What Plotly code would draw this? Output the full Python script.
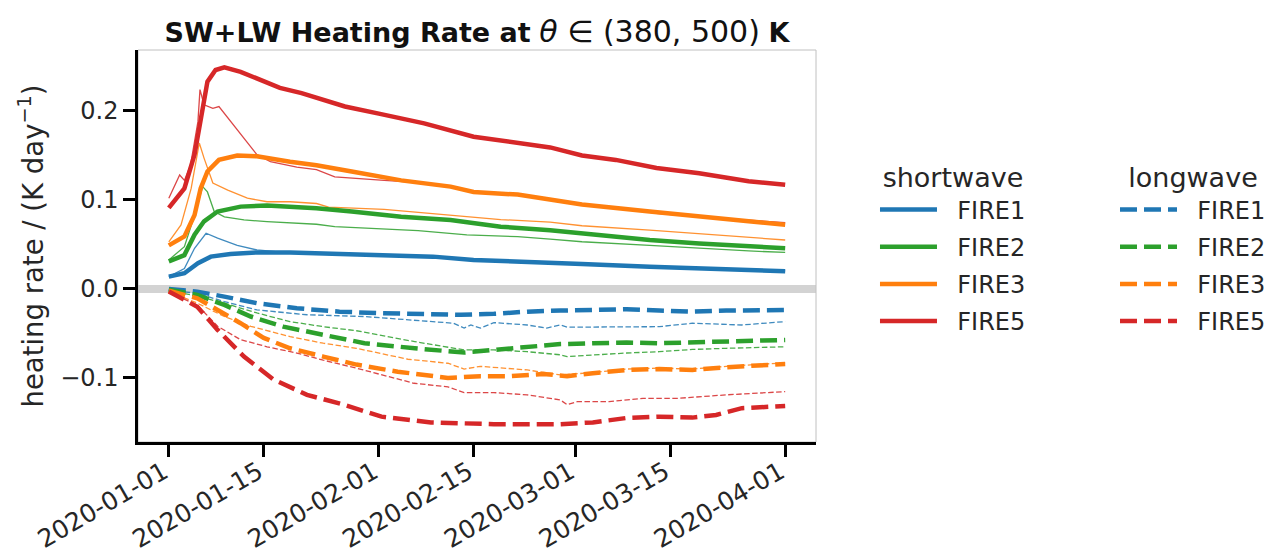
import pandas as pd
import plotly.graph_objects as go

START = pd.Timestamp("2020-01-01")

fires = ["FIRE1", "FIRE2", "FIRE3", "FIRE5"]
colors = {"FIRE1": "#1f77b4", "FIRE2": "#2ca02c", "FIRE3": "#ff7f0e", "FIRE5": "#d62728"}

# ---- shortwave, thick (days since 2020-01-01, K/day)
sw_thick_days = {
    "FIRE1": [0, 2.3, 4.3, 6.2, 9.1, 13, 17.9, 21.8, 29.5, 39, 45, 56.3, 61, 71, 78.3, 85.6, 91],
    "FIRE2": [0, 2.3, 3.8, 5.2, 7.2, 10.6, 14.5, 17.9, 21.8, 27, 34.3, 41.6, 49, 56.3, 61, 71, 78.3, 85.6, 91],
    "FIRE3": [0, 2.3, 3.8, 4.7, 5.7, 7.4, 10.1, 13, 17.9, 21.8, 27, 34.3, 41.6, 45, 51.5, 56.3, 61, 71, 78.3, 85.6, 91],
    "FIRE5": [0, 2.3, 3.8, 5, 5.7, 6.9, 8.2, 10.6, 13, 16.4, 19.6, 21.8, 26, 31, 37.7, 45, 50, 56.3, 61, 66, 72, 78.3, 85.6, 91],
}
sw_thick_vals = {
    "FIRE1": [0.0138, 0.0176, 0.029, 0.0363, 0.0393, 0.041, 0.041, 0.040, 0.038, 0.0363, 0.0326, 0.0300, 0.028, 0.025, 0.0232, 0.0213, 0.020],
    "FIRE2": [0.031, 0.038, 0.061, 0.076, 0.087, 0.0925, 0.0937, 0.0925, 0.0907, 0.087, 0.081, 0.0775, 0.070, 0.066, 0.0626, 0.055, 0.051, 0.0475, 0.0457],
    "FIRE3": [0.049, 0.059, 0.083, 0.113, 0.132, 0.145, 0.150, 0.149, 0.143, 0.139, 0.132, 0.122, 0.115, 0.109, 0.106, 0.100, 0.095, 0.087, 0.081, 0.076, 0.072],
    "FIRE5": [0.091, 0.113, 0.151, 0.207, 0.233, 0.246, 0.249, 0.244, 0.237, 0.226, 0.220, 0.215, 0.205, 0.197, 0.186, 0.171, 0.166, 0.159, 0.150, 0.145, 0.136, 0.130, 0.121, 0.117],
}

# ---- shortwave, thin
sw_thin_days = {
    "FIRE1": [0, 2.3, 3.8, 5.5, 7.2, 10.1, 13, 17, 21.8, 29.5, 39, 45, 56.3, 61, 71, 78.3, 85.6, 91],
    "FIRE2": [0, 2.3, 3.8, 5, 5.7, 6.7, 8.2, 11.1, 14.5, 18.9, 21.8, 24.5, 36.8, 44, 51.5, 56.3, 61, 71, 78.3, 85.6, 91],
    "FIRE3": [0, 1.8, 3.3, 4.5, 5.2, 6.5, 8.7, 11.6, 14.5, 17.9, 21.8, 23.6, 31.8, 41.6, 49, 56.3, 61, 71, 78.3, 85.6, 91],
    "FIRE5": [0, 1.6, 2.3, 3.2, 4.3, 4.6, 5.2, 6.5, 7.4, 9.6, 13, 15, 18.9, 21.8, 24.5, 31.8, 38.3, 45, 51, 57.8, 61, 66, 72, 78.3, 85.6, 91],
}
sw_thin_vals = {
    "FIRE1": [0.0138, 0.023, 0.0457, 0.0626, 0.057, 0.049, 0.0438, 0.041, 0.0405, 0.0385, 0.0368, 0.033, 0.0305, 0.0285, 0.0255, 0.0235, 0.0216, 0.0203],
    "FIRE2": [0.0326, 0.0475, 0.083, 0.115, 0.109, 0.087, 0.081, 0.0775, 0.0756, 0.0738, 0.0727, 0.070, 0.0655, 0.0607, 0.0588, 0.056, 0.053, 0.049, 0.0457, 0.0427, 0.041],
    "FIRE3": [0.053, 0.072, 0.113, 0.164, 0.147, 0.119, 0.111, 0.102, 0.098, 0.098, 0.096, 0.092, 0.0895, 0.083, 0.078, 0.075, 0.071, 0.066, 0.062, 0.058, 0.055],
    "FIRE5": [0.102, 0.128, 0.122, 0.139, 0.188, 0.224, 0.207, 0.203, 0.205, 0.184, 0.151, 0.143, 0.137, 0.134, 0.126, 0.122, 0.119, 0.109, 0.106, 0.098, 0.094, 0.092, 0.085, 0.081, 0.077, 0.0745],
}

# ---- longwave, thick
lw_thick_days = {
    "FIRE1": [0, 4.2, 8.2, 13, 18.9, 25.2, 31.4, 43.1, 48, 52.9, 57.8, 62.6, 67.6, 72.4, 77.3, 82.3, 91],
    "FIRE2": [0, 4.2, 8.2, 12.1, 16.9, 21.8, 26.7, 28.9, 36.3, 43.6, 48, 52.9, 57.8, 62.6, 67.6, 72.4, 77.3, 82.3, 91],
    "FIRE3": [0, 4.2, 7.2, 10.6, 14, 17.9, 22.8, 27.7, 33.8, 41.2, 46, 50.4, 55.3, 58.8, 62.6, 67.6, 72.4, 77.3, 82.3, 91],
    "FIRE5": [0, 4.2, 7.2, 11.1, 15.5, 20.4, 25.8, 31.4, 38.7, 43.1, 48, 57.8, 62.6, 67.6, 72.4, 77.3, 80.8, 84.6, 91],
}
lw_thick_vals = {
    "FIRE1": [0.0, -0.003, -0.0086, -0.016, -0.0217, -0.0255, -0.0273, -0.029, -0.028, -0.0255, -0.0243, -0.0236, -0.0228, -0.0243, -0.0255, -0.0243, -0.0236],
    "FIRE2": [-0.001, -0.0067, -0.018, -0.031, -0.0424, -0.050, -0.057, -0.061, -0.0667, -0.0715, -0.0685, -0.065, -0.062, -0.061, -0.0603, -0.061, -0.0603, -0.059, -0.0573],
    "FIRE3": [-0.002, -0.0105, -0.0236, -0.0385, -0.055, -0.0667, -0.076, -0.085, -0.093, -0.100, -0.098, -0.098, -0.0955, -0.098, -0.0947, -0.091, -0.090, -0.091, -0.088, -0.0843],
    "FIRE5": [-0.003, -0.020, -0.046, -0.076, -0.102, -0.119, -0.130, -0.1435, -0.150, -0.151, -0.152, -0.152, -0.150, -0.145, -0.1435, -0.1446, -0.1416, -0.134, -0.1315],
}

# ---- longwave, thin
lw_thin_days = {
    "FIRE1": [0, 4.2, 8.2, 13, 20.4, 26.7, 28.9, 42, 43.6, 44.6, 46, 48, 52.9, 55.8, 57.8, 58.8, 62.6, 72.4, 77.3, 84.6, 91],
    "FIRE2": [0, 4.2, 8.2, 13, 17.9, 22.8, 27.7, 36.3, 43.6, 48, 52.9, 57.8, 58.8, 62.6, 67.6, 72.4, 77.3, 82.3, 91],
    "FIRE3": [0, 4.2, 8.2, 12.1, 17.9, 22.8, 27.7, 35.3, 41.2, 43.6, 46, 48, 52.9, 57.8, 62.6, 67.6, 72.4, 77.3, 82.3, 91],
    "FIRE5": [0, 4.2, 7.2, 10.6, 14.5, 18.9, 22.8, 27.7, 36.2, 41.2, 43.6, 48, 52.9, 57.8, 58.8, 60.3, 65, 70, 75, 82.3, 91],
}
lw_thin_vals = {
    "FIRE1": [-0.001, -0.005, -0.0142, -0.0236, -0.029, -0.031, -0.031, -0.0385, -0.044, -0.0405, -0.044, -0.0378, -0.0405, -0.044, -0.0405, -0.043, -0.043, -0.0424, -0.0385, -0.0405, -0.0367],
    "FIRE2": [-0.002, -0.008, -0.016, -0.027, -0.0367, -0.0424, -0.047, -0.0592, -0.0685, -0.0685, -0.0705, -0.074, -0.076, -0.074, -0.072, -0.0705, -0.068, -0.0667, -0.065],
    "FIRE3": [-0.003, -0.016, -0.031, -0.042, -0.0536, -0.061, -0.0667, -0.079, -0.0835, -0.090, -0.087, -0.088, -0.091, -0.0966, -0.094, -0.090, -0.089, -0.090, -0.087, -0.083],
    "FIRE5": [-0.004, -0.018, -0.042, -0.057, -0.065, -0.072, -0.080, -0.089, -0.106, -0.110, -0.1165, -0.1165, -0.119, -0.1247, -0.130, -0.1266, -0.1266, -0.123, -0.123, -0.119, -0.1154],
}

x_ticks = ["2020-01-01", "2020-01-15", "2020-02-01", "2020-02-15", "2020-03-01", "2020-03-15", "2020-04-01"]
y_ticks = [-0.1, 0.0, 0.1, 0.2]
y_ticktext = ["\u22120.1", "0.0", "0.1", "0.2"]

FONT = "DejaVu Sans"
TXT = "#262626"
NB = "\u00a0\u00a0"


def to_dates(days):
    return START + pd.to_timedelta(days, unit="D")


fig = go.Figure()

THICK = 4.5
THIN = 1.3
DASH_THICK = "17px,7px"
DASH_THIN = "5.5px,2.5px"

for f in fires:
    c = colors[f]
    fig.add_trace(go.Scatter(x=to_dates(lw_thin_days[f]), y=lw_thin_vals[f], mode="lines",
                             line=dict(color=c, width=THIN, dash=DASH_THIN), opacity=0.85,
                             showlegend=False, hoverinfo="skip"))
    fig.add_trace(go.Scatter(x=to_dates(sw_thin_days[f]), y=sw_thin_vals[f], mode="lines",
                             line=dict(color=c, width=THIN), opacity=0.85,
                             showlegend=False, hoverinfo="skip"))

for f in fires:
    c = colors[f]
    fig.add_trace(go.Scatter(x=to_dates(sw_thick_days[f]), y=sw_thick_vals[f], mode="lines",
                             line=dict(color=c, width=THICK), name=NB + f, legend="legend",
                             legendgroup="sw" + f))
for f in fires:
    c = colors[f]
    fig.add_trace(go.Scatter(x=to_dates(lw_thick_days[f]), y=lw_thick_vals[f], mode="lines",
                             line=dict(color=c, width=THICK, dash=DASH_THICK), name=NB + f, legend="legend2",
                             legendgroup="lw" + f))

t0 = pd.Timestamp(x_ticks[0])
t1 = pd.Timestamp(x_ticks[-1])
pad = (t1 - t0) * 0.05
x_range = [t0 - pad, t1 + pad]

fig.add_shape(type="line", xref="paper", x0=0, x1=1, yref="y", y0=0, y1=0,
              line=dict(color="#d3d3d3", width=8), layer="below")
fig.add_shape(type="rect", xref="paper", yref="paper", x0=0, x1=1, y0=0, y1=1,
              line=dict(color="#c0c0c0", width=1), layer="below")

legend_common = dict(
    font=dict(family=FONT, size=24, color=TXT),
    bgcolor="rgba(0,0,0,0)",
    yanchor="top",
    xanchor="left",
    tracegroupgap=3,
    itemwidth=57,
)

W, H = 1267, 554

fig.update_layout(
    width=W,
    height=H,
    margin=dict(l=138, r=451, t=50, b=112, autoexpand=False),
    paper_bgcolor="white",
    plot_bgcolor="white",
    font=dict(family=FONT, size=24, color=TXT),
    title=dict(
        text="<b>SW+LW Heating Rate at</b> <span style='font-size:30px'><i>θ</i> ∈ (380, 500)</span> <b>K</b>",
        font=dict(family=FONT, size=27, color="#111111"),
        x=0.5, xref="paper", xanchor="center",
        y=1 - 33 / H, yref="container", yanchor="middle",
    ),
    xaxis=dict(
        type="date",
        range=x_range,
        automargin=False,
        tickvals=[pd.Timestamp(t) for t in x_ticks],
        ticktext=x_ticks,
        tickangle=-30,
        ticks="outside", ticklen=12, tickwidth=2.5, tickcolor="black",
        ticklabelstandoff=-9, ticklabelshift=-5,
        showline=True, linecolor="black", linewidth=2.5,
        showgrid=False, zeroline=False,
        tickfont=dict(family=FONT, size=25, color=TXT),
    ),
    yaxis=dict(
        range=[-0.172, 0.2685],
        automargin=False,
        tickvals=y_ticks,
        ticktext=y_ticktext,
        ticks="outside", ticklen=12, tickwidth=2.5, tickcolor="black",
        showline=True, linecolor="black", linewidth=2.5,
        showgrid=False, zeroline=False,
        tickfont=dict(family=FONT, size=24, color=TXT),
        title=dict(text="heating rate / (K day<sup>\u22121</sup>)",
                   font=dict(family=FONT, size=27.5, color=TXT), standoff=9),
    ),
    legend=dict(title=dict(text="shortwave", side="top center",
                           font=dict(family=FONT, size=27, color=TXT)),
                x=1.087, y=0.739, **legend_common),
    legend2=dict(title=dict(text="longwave", side="top center",
                            font=dict(family=FONT, size=27, color=TXT)),
                 x=1.441, y=0.739, **legend_common),
)

fig.write_html(
    "out.html",
    config={"displayModeBar": False},
    post_script="document.body.style.margin='0';document.body.style.overflow='hidden';",
)
